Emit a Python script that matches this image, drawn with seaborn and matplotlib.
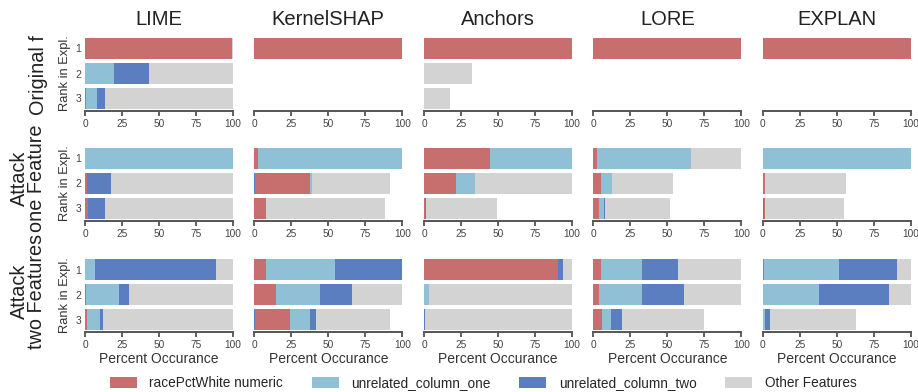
import matplotlib
matplotlib.use("Agg")
import matplotlib.pyplot as plt
import seaborn as sns
import numpy as np
from matplotlib.patches import Patch

# ---------------- data ----------------
explainers = ["LIME", "KernelSHAP", "Anchors", "LORE", "EXPLAN"]
settings = ["Original f", "Attack\none Feature", "Attack\ntwo Features"]
ranks = ["1", "2", "3"]
features = ["racePctWhite numeric", "unrelated_column_one", "unrelated_column_two", "Other Features"]

# per (setting, explainer): rows = rank 1..3, columns =
# [leading unrelated_column_two sliver, racePctWhite, unrelated_column_one, unrelated_column_two, other]
orig_lime = [[0, 99.5, 0, 0, 0.5], [0, 0, 19.6, 23.7, 56.7], [0, 0.5, 7.6, 5.4, 86.5]]
orig_shap = [[0, 100, 0, 0, 0], [0, 0, 0, 0, 0], [0, 0, 0, 0, 0]]
orig_anchors = [[0, 100, 0, 0, 0], [0, 0, 0, 0, 32.2], [0, 0, 0, 0, 17.6]]
orig_lore = [[0, 100, 0, 0, 0], [0, 0, 0, 0, 0], [0, 0, 0, 0, 0]]
orig_explan = [[0, 100, 0, 0, 0], [0, 0, 0, 0, 0], [0, 0, 0, 0, 0]]

one_lime = [[0, 0, 100, 0, 0], [0, 1.4, 0, 16.2, 82.4], [0, 1.8, 0, 11.7, 86.5]]
one_shap = [[0, 2.2, 97.8, 0, 0], [0.5, 37.0, 1.8, 0, 52.7], [0, 7.6, 0, 0, 80.5]]
one_anchors = [[0, 44.6, 55.4, 0, 0], [0, 21.6, 12.9, 0, 65.5], [0, 0.6, 0, 0.6, 48.1]]
one_lore = [[0, 2.5, 63.7, 0, 33.8], [0, 5.2, 7.5, 0, 41.3], [0, 4.0, 3.4, 0.6, 43.9]]
one_explan = [[0, 0, 100, 0, 0], [0, 1.6, 0, 0, 54.7], [0.6, 0.9, 0, 0, 53.5]]

two_lime = [[0, 0, 7.0, 81.7, 11.3], [0, 0.5, 22.5, 6.5, 70.5], [0, 1.5, 8.5, 2.0, 88.0]]
two_shap = [[0, 7.6, 46.8, 45.6, 0], [0, 14.6, 29.7, 21.5, 34.2], [0.5, 23.5, 13.5, 4.5, 50.0]]
two_anchors = [[0, 90.3, 0, 3.6, 6.1], [0, 0, 3.4, 0, 96.6], [0.7, 0, 0, 0, 99.3]]
two_lore = [[0, 5.2, 27.8, 24.4, 42.6], [0, 3.9, 29.1, 28.4, 38.6], [0, 5.9, 6.1, 7.4, 55.6]]
two_explan = [[0, 0.9, 50.7, 39.1, 9.3], [0, 0, 38.0, 47.3, 14.7], [0, 0, 1.6, 3.3, 58.1]]

panels = [
    [orig_lime, orig_shap, orig_anchors, orig_lore, orig_explan],
    [one_lime, one_shap, one_anchors, one_lore, one_explan],
    [two_lime, two_shap, two_anchors, two_lore, two_explan],
]

colors = ["#C76E6E", "#8FC0D6", "#5B7EC1", "#D3D3D3"]
seg_colors = [colors[2], colors[0], colors[1], colors[2], colors[3]]

# ---------------- plotting ----------------
sns.set_theme(style="ticks")
plt.rcParams["font.family"] = ["Liberation Sans", "DejaVu Sans"]

fig = plt.figure(figsize=(9.18, 3.92), dpi=100)
W, H = 918.0, 392.0
col_left = [85, 254.3, 424, 593.3, 762.7]
col_w = 148
row_bottom = [111, 220.7, 332.3]
row_h = 75

for r in range(3):
    for c in range(5):
        ax = fig.add_axes([col_left[c] / W, 1 - row_bottom[r] / H, col_w / W, row_h / H])
        data = np.array(panels[r][c], dtype=float)
        cum = np.cumsum(data, axis=1)
        for k in range(cum.shape[1] - 1, -1, -1):
            sns.barplot(x=cum[:, k], y=ranks, order=ranks, orient="h",
                        color=seg_colors[k], errorbar=None, width=0.83,
                        linewidth=0, saturation=1, ax=ax)
        ax.set_xlim(0, 100)
        ax.set_ylim(2.5, -0.5)
        ax.set_xticks([0, 25, 50, 75, 100])
        ax.tick_params(axis="x", labelsize=7.3, labelcolor="#444444", color="#444444",
                       length=3.8, width=1.2, pad=2)
        ax.tick_params(axis="y", left=False, length=0, labelsize=7.5,
                       labelcolor="#444444", pad=2.5)
        sns.despine(ax=ax, left=True)
        ax.spines["bottom"].set_color("#555555")
        ax.spines["bottom"].set_linewidth(1.4)
        if c == 0:
            ax.set_ylabel("Rank in Expl.", fontsize=9.3, color="#333333", labelpad=3.5)
        else:
            ax.set_ylabel("")
            ax.set_yticklabels([])
        if r == 2:
            ax.set_xlabel("Percent Occurance", fontsize=10, color="#333333", labelpad=1.5)
        else:
            ax.set_xlabel("")
        if r == 0:
            ax.set_title(explainers[c], fontsize=14.5, color="#222222", pad=8)

# row labels
row_centers = [75, 178, 291]
row_x = [38, 28, 28]
for r in range(3):
    fig.text(row_x[r] / W, 1 - row_centers[r] / H, settings[r], rotation=90,
             ha="center", va="center", multialignment="center",
             fontsize=14.3, color="#222222", linespacing=0.85)

handles = [Patch(facecolor=col, edgecolor="none") for col in colors]
fig.legend(handles, features, loc="center left", bbox_to_anchor=(110 / W, 1 - 383 / H),
           ncol=4, frameon=False, fontsize=9.8, handlelength=2.0, handleheight=0.85,
           columnspacing=2.1, handletextpad=0.9, borderpad=0, borderaxespad=0)

fig.savefig("out.png", dpi=100)
